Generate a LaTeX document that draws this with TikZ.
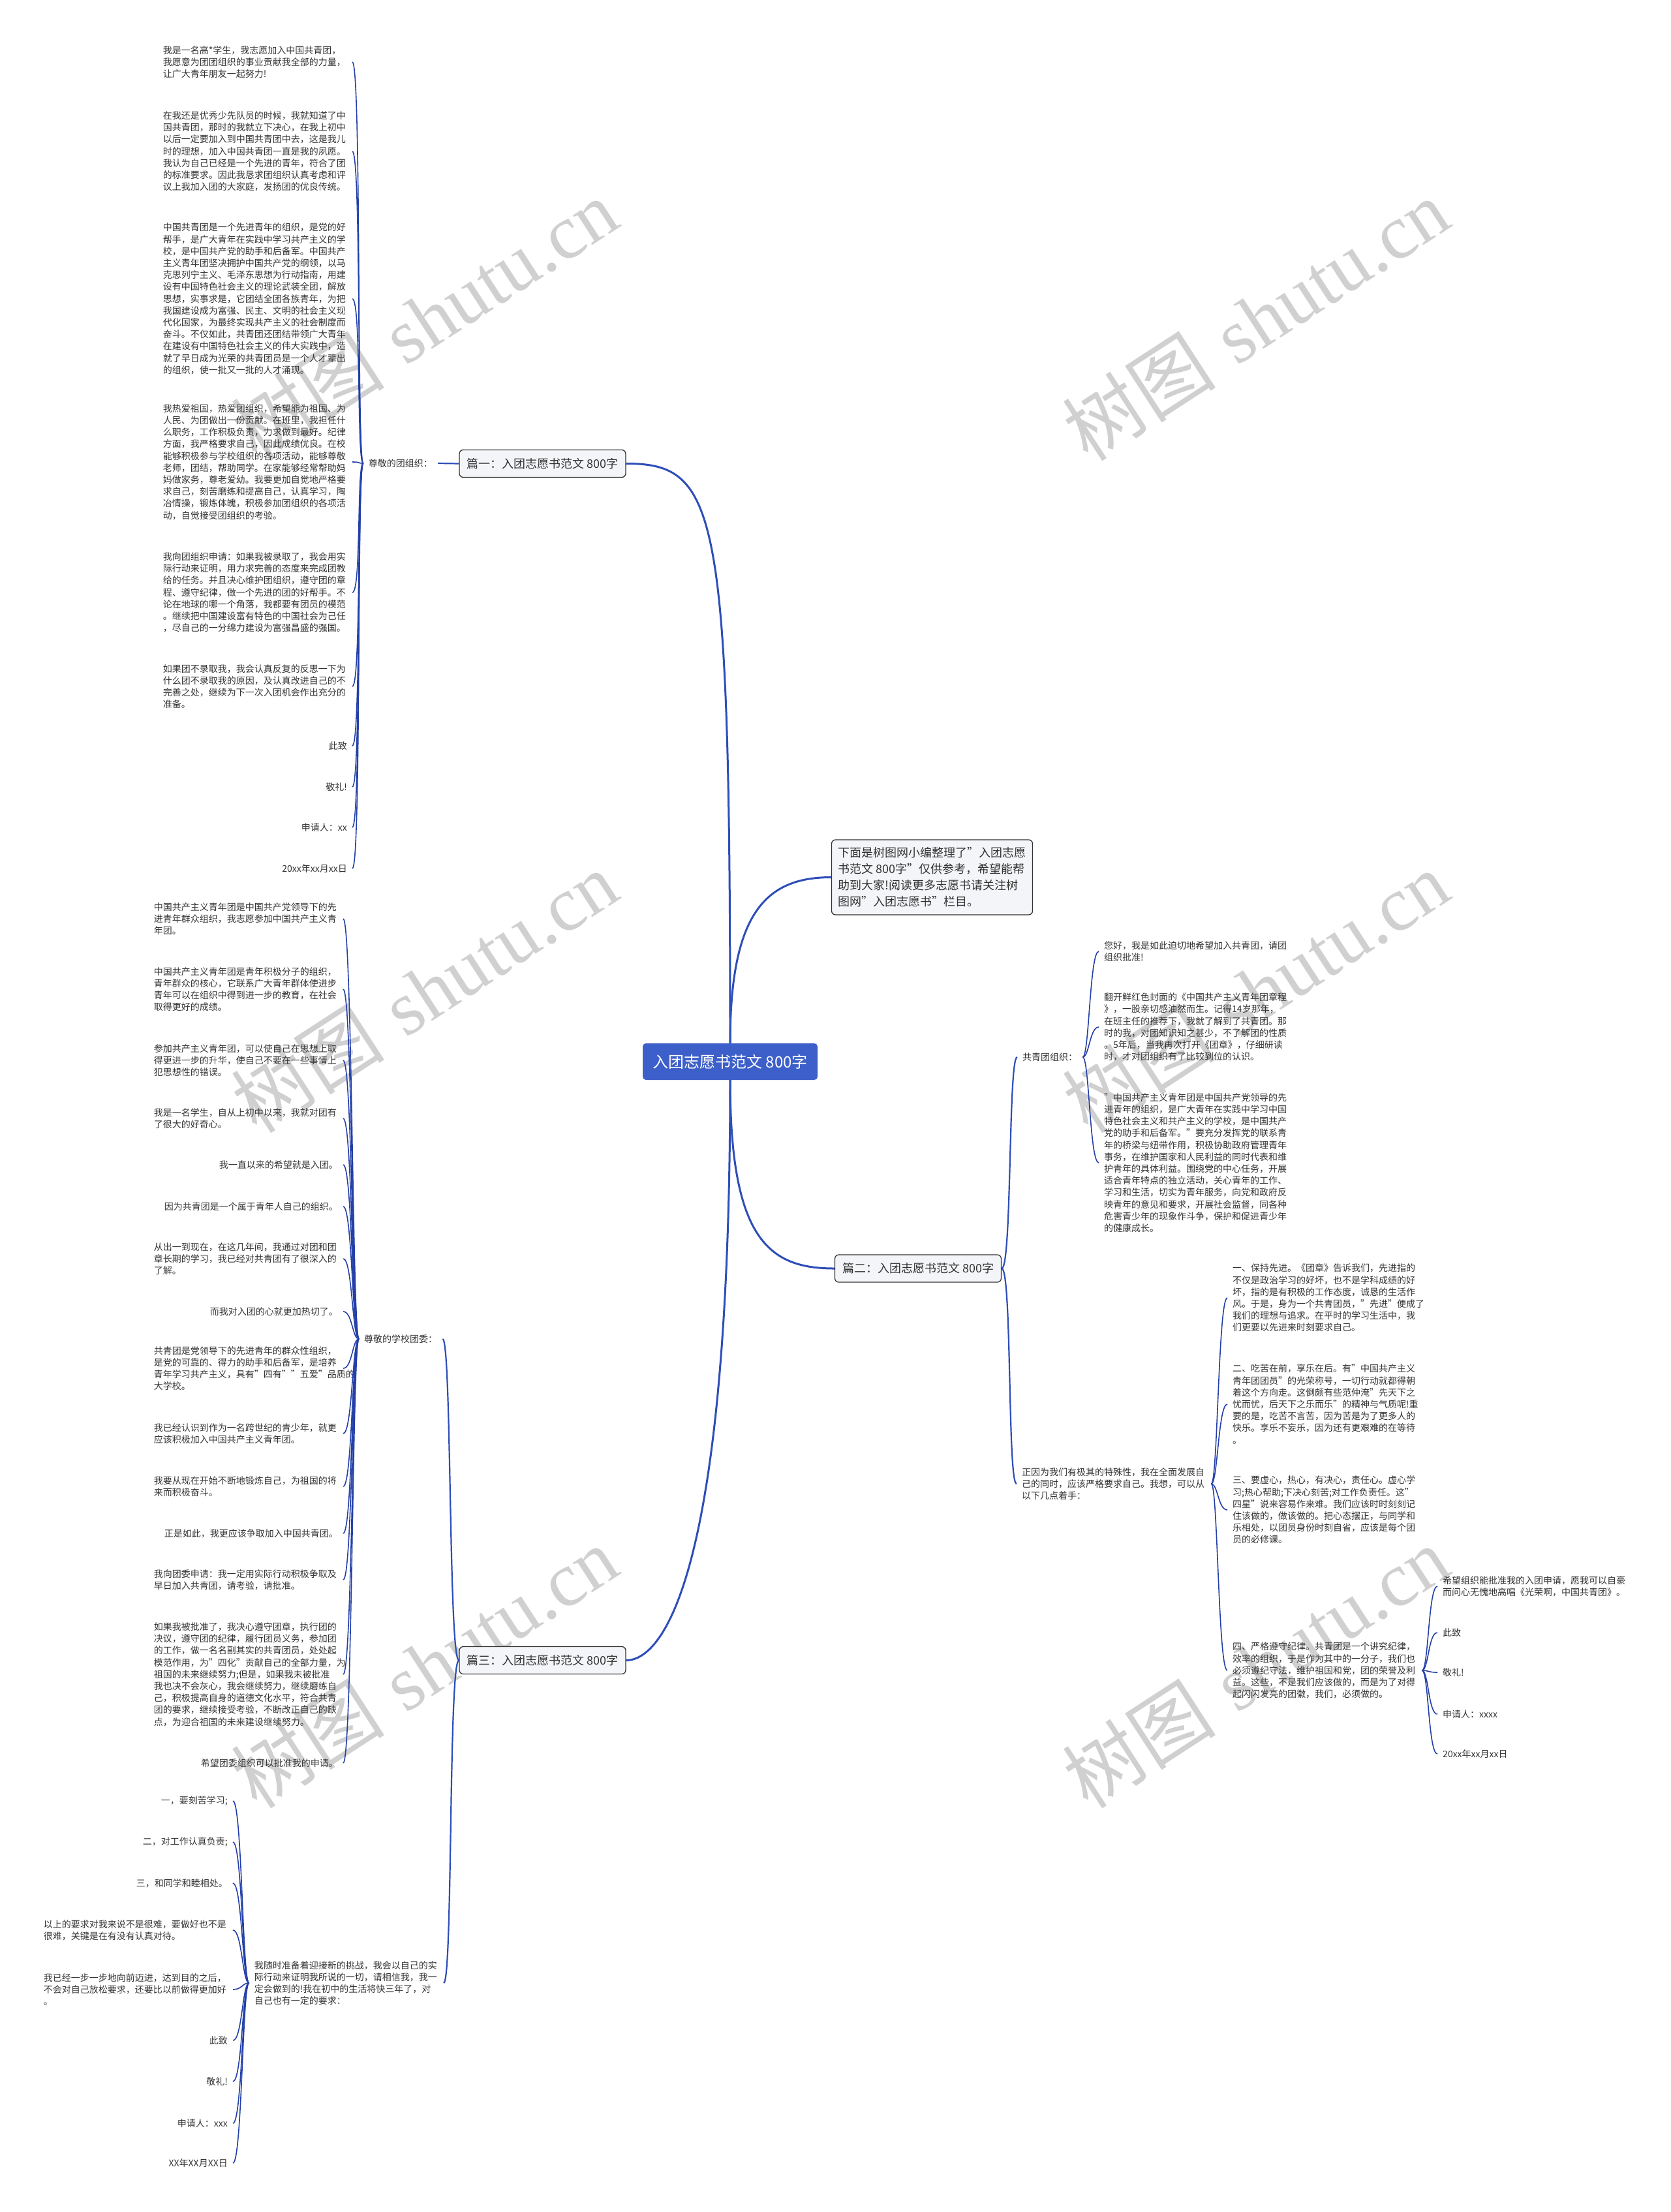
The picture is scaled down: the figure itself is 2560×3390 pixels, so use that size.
\documentclass[tikz,border=0pt]{standalone}
\usepackage{fontspec}
\setmainfont{Noto Sans CJK SC}
\newfontfamily\wmlatin{Liberation Serif}
\usetikzlibrary{calc}
\definecolor{linkblue}{RGB}{46,78,184}
\definecolor{leafblue}{RGB}{36,64,168}
\definecolor{rootblue}{RGB}{61,95,201}
\definecolor{boxgray}{RGB}{243,245,248}
\definecolor{txtgray}{RGB}{51,51,51}
\definecolor{wmgray}{RGB}{208,208,208}

\begin{document}
\begin{tikzpicture}[x=1pt,y=-1pt,
  root/.style={fill=rootblue,rounded corners=5pt,text=white,font=\fontsize{24}{28}\selectfont,minimum width=268pt,minimum height=56pt,inner sep=0pt},
  sect/.style={fill=boxgray,draw=txtgray,line width=1.3pt,rounded corners=6pt,text=txtgray,font=\fontsize{18}{22}\selectfont,minimum width=255pt,minimum height=42pt,inner sep=0pt},
  txt/.style={text=txtgray,font=\fontsize{14}{18.2}\selectfont,inner xsep=8pt,inner ysep=1pt},
  para/.style={txt,text width=282pt,align=left},
  mainline/.style={draw=linkblue,line width=3pt},
  subline/.style={draw=linkblue,line width=2.2pt},
  leafline/.style={draw=leafblue,line width=1.6pt}]
  \useasboundingbox (0,0) rectangle (2560,3390);
  \fill[white] (0,0) rectangle (2560,3390);

  % watermark
  \begin{scope}
    \clip (0,0) rectangle (2560,3390);
    \foreach \wx in {650,1924}
      \foreach \wy in {490,1520,2555,3590}
        \node[text=wmgray,rotate=33,font=\fontsize{118}{118}\selectfont] at (\wx,\wy) {树图\hspace{0.3em}{\wmlatin shutu.cn}};
  \end{scope}

  % centre and sections
  \node[root] (root) at (1119,1627) {入团志愿书范文 800字};
  \node[sect,align=left,font=\fontsize{18}{25}\selectfont,inner xsep=10pt,minimum height=115pt] (intro) at (1428.5,1344.5) {下面是树图网小编整理了"入团志愿\\书范文 800字"仅供参考，希望能帮\\助到大家!阅读更多志愿书请关注树\\图网"入团志愿书"栏目。};
  \node[sect] (p1) at (831.5,710.5) {篇一：入团志愿书范文 800字};
  \node[sect] (p2) at (1407,1944) {篇二：入团志愿书范文 800字};
  \node[sect] (p3) at (831.5,2544.5) {篇三：入团志愿书范文 800字};

  % part one
  \node[txt,anchor=east] (lab1) at (671,710) {尊敬的团组织：};
  \node[para,anchor=east] (a1) at (540,95) {我是一名高*学生，我志愿加入中国共青团，\\我愿意为团团组织的事业贡献我全部的力量，\\让广大青年朋友一起努力!};
  \node[para,anchor=east] (a2) at (540,232) {在我还是优秀少先队员的时候，我就知道了中\\国共青团，那时的我就立下决心，在我上初中\\以后一定要加入到中国共青团中去，这是我儿\\时的理想，加入中国共青团一直是我的夙愿。\\我认为自己已经是一个先进的青年，符合了团\\的标准要求。因此我恳求团组织认真考虑和评\\议上我加入团的大家庭，发扬团的优良传统。};
  \node[para,anchor=east] (a3) at (540,458) {中国共青团是一个先进青年的组织，是党的好\\帮手，是广大青年在实践中学习共产主义的学\\校，是中国共产党的助手和后备军。中国共产\\主义青年团坚决拥护中国共产党的纲领，以马\\克思列宁主义、毛泽东思想为行动指南，用建\\设有中国特色社会主义的理论武装全团，解放\\思想，实事求是，它团结全团各族青年，为把\\我国建设成为富强、民主、文明的社会主义现\\代化国家，为最终实现共产主义的社会制度而\\奋斗。不仅如此，共青团还团结带领广大青年\\在建设有中国特色社会主义的伟大实践中，造\\就了早日成为光荣的共青团员是一个人才辈出\\的组织，使一批又一批的人才涌现。};
  \node[para,anchor=east] (a4) at (540,708) {我热爱祖国，热爱团组织，希望能为祖国、为\\人民、为团做出一份贡献。在班里，我担任什\\么职务，工作积极负责，力求做到最好。纪律\\方面，我严格要求自己，因此成绩优良。在校\\能够积极参与学校组织的各项活动，能够尊敬\\老师，团结，帮助同学。在家能够经常帮助妈\\妈做家务，尊老爱幼。我要更加自觉地严格要\\求自己，刻苦磨练和提高自己，认真学习，陶\\冶情操，锻炼体魄，积极参加团组织的各项活\\动，自觉接受团组织的考验。};
  \node[para,anchor=east] (a5) at (540,908) {我向团组织申请：如果我被录取了，我会用实\\际行动来证明，用力求完善的态度来完成团教\\给的任务。并且决心维护团组织，遵守团的章\\程、遵守纪律，做一个先进的团的好帮手。不\\论在地球的哪一个角落，我都要有团员的模范\\。继续把中国建设富有特色的中国社会为己任\\，尽自己的一分绵力建设为富强昌盛的强国。};
  \node[para,anchor=east] (a6) at (540,1052) {如果团不录取我，我会认真反复的反思一下为\\什么团不录取我的原因，及认真改进自己的不\\完善之处，继续为下一次入团机会作出充分的\\准备。};
  \node[txt,anchor=east] (a7) at (540,1143) {此致};
  \node[txt,anchor=east] (a8) at (540,1206) {敬礼!};
  \node[txt,anchor=east] (a9) at (540,1268) {申请人：xx};
  \node[txt,anchor=east] (a10) at (540,1331) {20xx年xx月xx日};

  % part two
  \node[txt,anchor=west] (lab2) at (1559,1620) {共青团组织：};
  \node[para,anchor=west] (d1) at (1684,1458) {您好，我是如此迫切地希望加入共青团，请团\\组织批准!};
  \node[para,anchor=west] (d2) at (1684,1574) {翻开鲜红色封面的《中国共产主义青年团章程\\》，一股亲切感油然而生。记得14岁那年，\\在班主任的推荐下，我就了解到了共青团。那\\时的我，对团知识知之甚少，不了解团的性质\\。5年后，当我再次打开《团章》，仔细研读\\时，才对团组织有了比较到位的认识。};
  \node[para,anchor=west] (d3) at (1684,1782) {"中国共产主义青年团是中国共产党领导的先\\进青年的组织，是广大青年在实践中学习中国\\特色社会主义和共产主义的学校，是中国共产\\党的助手和后备军。"要充分发挥党的联系青\\年的桥梁与纽带作用，积极协助政府管理青年\\事务，在维护国家和人民利益的同时代表和维\\护青年的具体利益。围绕党的中心任务，开展\\适合青年特点的独立活动，关心青年的工作、\\学习和生活，切实为青年服务，向党和政府反\\映青年的意见和要求，开展社会监督，同各种\\危害青少年的现象作斗争，保护和促进青少年\\的健康成长。};
  \node[para,anchor=west] (r) at (1558,2274) {正因为我们有极其的特殊性，我在全面发展自\\己的同时，应该严格要求自己。我想，可以从\\以下几点着手：};
  \node[para,anchor=west] (e1) at (1881,1989) {一、保持先进。《团章》告诉我们，先进指的\\不仅是政治学习的好坏，也不是学科成绩的好\\坏，指的是有积极的工作态度，诚恳的生活作\\风。于是，身为一个共青团员，"先进"便成了\\我们的理想与追求。在平时的学习生活中，我\\们更要以先进来时刻要求自己。};
  \node[para,anchor=west] (e2) at (1881,2152) {二、吃苦在前，享乐在后。有"中国共产主义\\青年团团员"的光荣称号，一切行动就都得朝\\着这个方向走。这倒颇有些范仲淹"先天下之\\忧而忧，后天下之乐而乐"的精神与气质呢!重\\要的是，吃苦不言苦，因为苦是为了更多人的\\快乐。享乐不妄乐，因为还有更艰难的在等待\\。};
  \node[para,anchor=west] (e3) at (1881,2314) {三、要虚心，热心，有决心，责任心。虚心学\\习;热心帮助;下决心刻苦;对工作负责任。这"\\四星"说来容易作来难。我们应该时时刻刻记\\住该做的，做该做的。把心态摆正，与同学和\\乐相处，以团员身份时刻自省，应该是每个团\\员的必修课。};
  \node[para,anchor=west] (e4) at (1881,2560) {四、严格遵守纪律。共青团是一个讲究纪律，\\效率的组织，于是作为其中的一分子，我们也\\必须遵纪守法，维护祖国和党，团的荣誉及利\\益。这些，不是我们应该做的，而是为了对得\\起闪闪发亮的团徽，我们，必须做的。};
  \node[para,anchor=west] (f1) at (2203,2431) {希望组织能批准我的入团申请，愿我可以自豪\\而问心无愧地高唱《光荣啊，中国共青团》。};
  \node[txt,anchor=west] (f2) at (2203,2502) {此致};
  \node[txt,anchor=west] (f3) at (2203,2563) {敬礼!};
  \node[txt,anchor=west] (f4) at (2203,2627) {申请人：xxxx};
  \node[txt,anchor=west] (f5) at (2203,2688) {20xx年xx月xx日};

  % part three
  \node[txt,anchor=west] (lab3) at (550,2052) {尊敬的学校团委：};
  \node[para,anchor=east] (b1) at (526,1408) {中国共产主义青年团是中国共产党领导下的先\\进青年群众组织，我志愿参加中国共产主义青\\年团。};
  \node[para,anchor=east] (b2) at (526,1516) {中国共产主义青年团是青年积极分子的组织，\\青年群众的核心，它联系广大青年群体使进步\\青年可以在组织中得到进一步的教育，在社会\\取得更好的成绩。};
  \node[para,anchor=east] (b3) at (526,1625) {参加共产主义青年团，可以使自己在思想上取\\得更进一步的升华，使自己不要在一些事情上\\犯思想性的错误。};
  \node[para,anchor=east] (b4) at (526,1714) {我是一名学生，自从上初中以来，我就对团有\\了很大的好奇心。};
  \node[txt,anchor=east] (b5) at (526,1785) {我一直以来的希望就是入团。};
  \node[txt,anchor=east] (b6) at (526,1849) {因为共青团是一个属于青年人自己的组织。};
  \node[para,anchor=east] (b7) at (526,1929) {从出一到现在，在这几年间，我通过对团和团\\章长期的学习，我已经对共青团有了很深入的\\了解。};
  \node[txt,anchor=east] (b8) at (526,2010) {而我对入团的心就更加热切了。};
  \node[para,anchor=east] (b9) at (526,2097) {共青团是党领导下的先进青年的群众性组织，\\是党的可靠的、得力的助手和后备军，是培养\\青年学习共产主义，具有"四有""五爱"品质的\\大学校。};
  \node[para,anchor=east] (b10) at (526,2197) {我已经认识到作为一名跨世纪的青少年，就更\\应该积极加入中国共产主义青年团。};
  \node[para,anchor=east] (b11) at (526,2278) {我要从现在开始不断地锻炼自己，为祖国的将\\来而积极奋斗。};
  \node[txt,anchor=east] (b12) at (526,2350) {正是如此，我更应该争取加入中国共青团。};
  \node[para,anchor=east] (b13) at (526,2421) {我向团委申请：我一定用实际行动积极争取及\\早日加入共青团，请考验，请批准。};
  \node[para,anchor=east] (b14) at (526,2566) {如果我被批准了，我决心遵守团章，执行团的\\决议，遵守团的纪律，履行团员义务，参加团\\的工作，做一名名副其实的共青团员，处处起\\模范作用，为"四化"贡献自己的全部力量，为\\祖国的未来继续努力;但是，如果我未被批准\\我也决不会灰心，我会继续努力，继续磨练自\\己，积极提高自身的道德文化水平，符合共青\\团的要求，继续接受考验，不断改正自己的缺\\点，为迎合祖国的未来建设继续努力。};
  \node[txt,anchor=east] (b15) at (526,2702) {希望团委组织可以批准我的申请。};
  \node[para,anchor=east] (q) at (680,3039) {我随时准备着迎接新的挑战，我会以自己的实\\际行动来证明我所说的一切，请相信我，我一\\定会做到的!我在初中的生活将快三年了，对\\自己也有一定的要求：};
  \node[txt,anchor=east] (c1) at (357,2760) {一，要刻苦学习;};
  \node[txt,anchor=east] (c2) at (357,2823) {二，对工作认真负责;};
  \node[txt,anchor=east] (c3) at (357,2886) {三，和同学和睦相处。};
  \node[para,anchor=east] (c4) at (357,2958) {以上的要求对我来说不是很难，要做好也不是\\很难，关键是在有没有认真对待。};
  \node[para,anchor=east] (c5) at (357,3049) {我已经一步一步地向前迈进，达到目的之后，\\不会对自己放松要求，还要比以前做得更加好\\。};
  \node[txt,anchor=east] (c6) at (357,3127) {此致};
  \node[txt,anchor=east] (c7) at (357,3190) {敬礼!};
  \node[txt,anchor=east] (c8) at (357,3254) {申请人：xxx};
  \node[txt,anchor=east] (c9) at (357,3315) {XX年XX月XX日};

  % connectors
  \draw[mainline] (root.north) .. controls ($(root.north)+(0,-820)$) and ($(p1.east)+(140,0)$) .. (p1.east);
  \draw[mainline] (root.north) .. controls ($(root.north)+(0,-200)$) and ($(intro.west)+(-100,0)$) .. (intro.west);
  \draw[mainline] (root.south) .. controls ($(root.south)+(0,245)$) and ($(p2.west)+(-100,0)$) .. (p2.west);
  \draw[mainline] (root.south) .. controls ($(root.south)+(0,745)$) and ($(p3.east)+(60,0)$) .. (p3.east);
  \draw[subline] (p1.west) -- (lab1.east);
  \foreach \nd in {lab3,q}
    \draw[subline] (p3.west) .. controls ($(p3.west)+(-16,0)$) and ($(\nd.east)+(14,0)$) .. (\nd.east);
  \foreach \nd in {lab2,r}
    \draw[subline] (p2.east) .. controls ($(p2.east)+(16,0)$) and ($(\nd.west)+(-14,0)$) .. (\nd.west);
  \foreach \i in {1,...,10}
    \draw[leafline] (lab1.west) .. controls ($(lab1.west)+(-10,0)$) and ($(a\i.east)+(14,0)$) .. (a\i.east);
  \foreach \i in {1,...,15}
    \draw[leafline] (lab3.west) .. controls ($(lab3.west)+(-10,0)$) and ($(b\i.east)+(14,0)$) .. (b\i.east);
  \foreach \i in {1,...,9}
    \draw[leafline] (q.west) .. controls ($(q.west)+(-10,0)$) and ($(c\i.east)+(14,0)$) .. (c\i.east);
  \foreach \i in {1,...,3}
    \draw[leafline] (lab2.east) .. controls ($(lab2.east)+(10,0)$) and ($(d\i.west)+(-14,0)$) .. (d\i.west);
  \foreach \i in {1,...,4}
    \draw[leafline] (r.east) .. controls ($(r.east)+(10,0)$) and ($(e\i.west)+(-14,0)$) .. (e\i.west);
  \foreach \i in {1,...,5}
    \draw[leafline] (e4.east) .. controls ($(e4.east)+(10,0)$) and ($(f\i.west)+(-14,0)$) .. (f\i.west);
\end{tikzpicture}
\end{document}
